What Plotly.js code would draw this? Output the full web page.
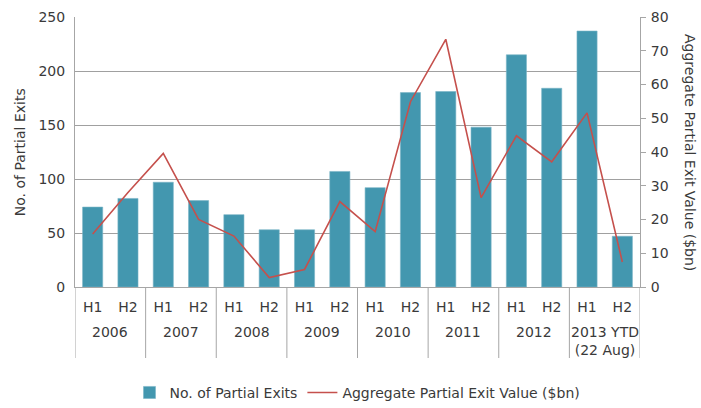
<!DOCTYPE html>
<html>
<head>
<meta charset="utf-8">
<script src="https://cdn.plot.ly/plotly-3.0.1.min.js"></script>
<style>html,body{margin:0;padding:0;background:#fff;}#chart{width:701px;height:408px;}</style>
</head>
<body>
<div id="chart"></div>
<script>
const years = ["2006","2006","2007","2007","2008","2008","2009","2009","2010","2010","2011","2011","2012","2012","2013 YTD<br>(22 Aug)","2013 YTD<br>(22 Aug)"];
const halves = ["H1","H2","H1","H2","H1","H2","H1","H2","H1","H2","H1","H2","H1","H2","H1","H2"];
const partialExits = [74, 82, 97, 80, 67, 53, 53, 107, 92, 180, 181, 148, 215, 184, 237, 47];
const exitValue = [15.7, 28, 39.6, 20, 15.1, 2.8, 5.2, 25.3, 16.4, 54.9, 73.4, 26.5, 44.8, 37.1, 51.6, 7.4];

const font = "'DejaVu Sans', sans-serif";
const txt = "#3A3A3A";
const axisGray = "#A6A6A6";

const idx = halves.map((h, i) => i);

// year groups: label, first and last index
const groups = [];
years.forEach((y, i) => {
  if (!groups.length || groups[groups.length - 1].label !== y) groups.push({label: y, first: i, last: i});
  else groups[groups.length - 1].last = i;
});

const traces = [
  {type:"bar", name:"No. of Partial Exits", x:idx, y:partialExits,
   marker:{color:"#4397AF", line:{color:"#78B4C6", width:0.6}}},
  {type:"scatter", mode:"lines", name:"Aggregate Partial Exit Value ($bn)", x:idx, y:exitValue,
   yaxis:"y2", line:{color:"#C5504C", width:1.6}}
];

const annotations = groups.map(g => ({
  text:g.label, xref:"x", yref:"paper", x:(g.first + g.last) / 2, y:-0.13,
  xanchor:"center", yanchor:"top", showarrow:false,
  font:{family:font, size:14, color:txt}
}));
annotations.push({text:"Aggregate Partial Exit Value ($bn)", xref:"paper", yref:"paper",
  x:1.0885, y:0.5, xanchor:"center", yanchor:"middle", textangle:90, showarrow:false,
  font:{family:font, size:14, color:txt}});
annotations.push({text:"No. of Partial Exits", xref:"paper", yref:"paper",
  x:-0.097, y:0.5, xanchor:"center", yanchor:"middle", textangle:-90, showarrow:false,
  font:{family:font, size:14, color:txt}});

const shapes = [groups[0].first - 0.5].concat(groups.map(g => g.last + 0.5)).map(xv => ({
  type:"line", xref:"x", yref:"paper", x0:xv, x1:xv, y0:0, y1:-0.263,
  line:{color:axisGray, width:1}
}));

const layout = {
  width:701, height:408,
  margin:{l:75, r:61, t:17, b:121, autoexpand:false},
  paper_bgcolor:"#fff", plot_bgcolor:"#fff",
  font:{family:font, size:14, color:txt},
  bargap:0.43,
  showlegend:true,
  legend:{orientation:"h", x:0.5, xanchor:"center", y:-0.392, yanchor:"middle",
          font:{family:font, size:14, color:txt}, traceorder:"normal", itemwidth:30},
  xaxis:{range:[-0.5, 15.5], tickvals:idx, ticktext:halves, showline:true, linecolor:axisGray,
         linewidth:1, ticks:"", showgrid:false, zeroline:false, ticklabelstandoff:7,
         tickfont:{family:font, size:14, color:txt}, automargin:false, fixedrange:true},
  yaxis:{range:[0,250], dtick:50, showline:true, linecolor:axisGray, showgrid:true,
         gridcolor:"#A0A0A0", gridwidth:1, zeroline:false, ticks:"", ticklabelstandoff:6,
         tickfont:{family:font, size:14, color:txt}, automargin:false},
  yaxis2:{range:[0,80], dtick:10, overlaying:"y", side:"right", showline:true, linecolor:axisGray,
          showgrid:false, zeroline:false, ticks:"outside", ticklen:5, tickcolor:axisGray,
          ticklabelstandoff:2,
          tickfont:{family:font, size:14, color:txt}, automargin:false},
  annotations:annotations,
  shapes:shapes
};

Plotly.newPlot("chart", traces, layout, {displayModeBar:false, staticPlot:true});
</script>
</body>
</html>
